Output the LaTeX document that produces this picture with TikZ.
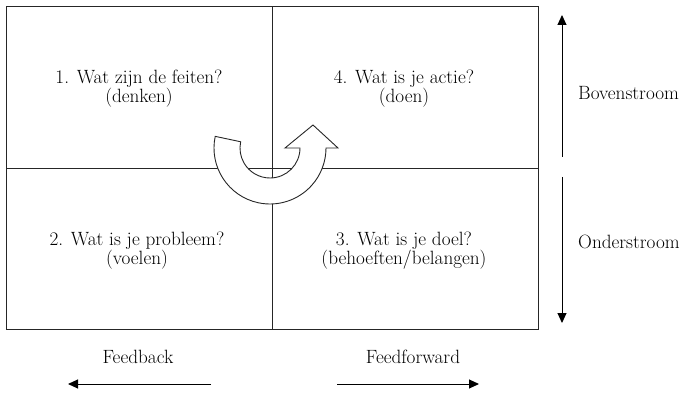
\documentclass[tikz,border=0pt]{standalone}
\usepackage{tikz}
\usetikzlibrary{arrows.meta,calc}

\tikzset{
  label text/.style = {font=\fontsize{19.2}{17.5}\selectfont, align=center, text=black},
  flow arrow/.style = {line width=1pt, -{Triangle[length=10pt,width=9pt]}},
  grid line/.style = {line width=0.9pt, black!85}
}

\begin{document}
\begin{tikzpicture}[x=1pt, y=1pt]
\useasboundingbox (0,0) rectangle (683,397);

\draw[grid line] (6,68) rectangle (538,391);
\draw[grid line] (272,68) -- (272,391);
\draw[grid line] (6,229) -- (538,229);

\node[label text] (feiten) at (139,308) {1. Wat zijn de feiten?\\(denken)};
\node[label text] (actie) at (404,308) {4. Wat is je actie?\\(doen)};
\node[label text] (probleem) at (137,146) {2. Wat is je probleem?\\(voelen)};
\node[label text] (doel) at (404,146) {3. Wat is je doel?\\(behoeften/belangen)};

\coordinate (mid) at (270,249);
\draw[line width=0.9pt, black!85, fill=white]
  ($(mid)+(30,0)$) arc[start angle=360, end angle=168, radius=30]
  -- ($(mid)+(168:56)$) arc[start angle=168, end angle=360, radius=56]
  -- ++(12,0) -- ($(mid)+(43,23)$) -- ($(mid)+(15,0)$) -- cycle;

\coordinate (boven a) at (562,240);
\coordinate (boven b) at (562,382);
\coordinate (onder a) at (562,220);
\coordinate (onder b) at (562,74);
\draw[flow arrow] (boven a) -- (boven b);
\draw[flow arrow] (onder a) -- (onder b);
\node[label text, anchor=west, inner sep=0pt] (boven) at (578,304) {Bovenstroom};
\node[label text, anchor=west, inner sep=0pt] (onder) at (578,155) {Onderstroom};

\node[label text] (feedback) at (138,40) {Feedback};
\node[label text] (feedforward) at (413,40) {Feedforward};
\coordinate (back a) at (211,13);
\coordinate (back b) at (68,13);
\coordinate (forward a) at (337,13);
\coordinate (forward b) at (479,13);
\draw[flow arrow] (back a) -- (back b);
\draw[flow arrow] (forward a) -- (forward b);
\end{tikzpicture}
\end{document}
